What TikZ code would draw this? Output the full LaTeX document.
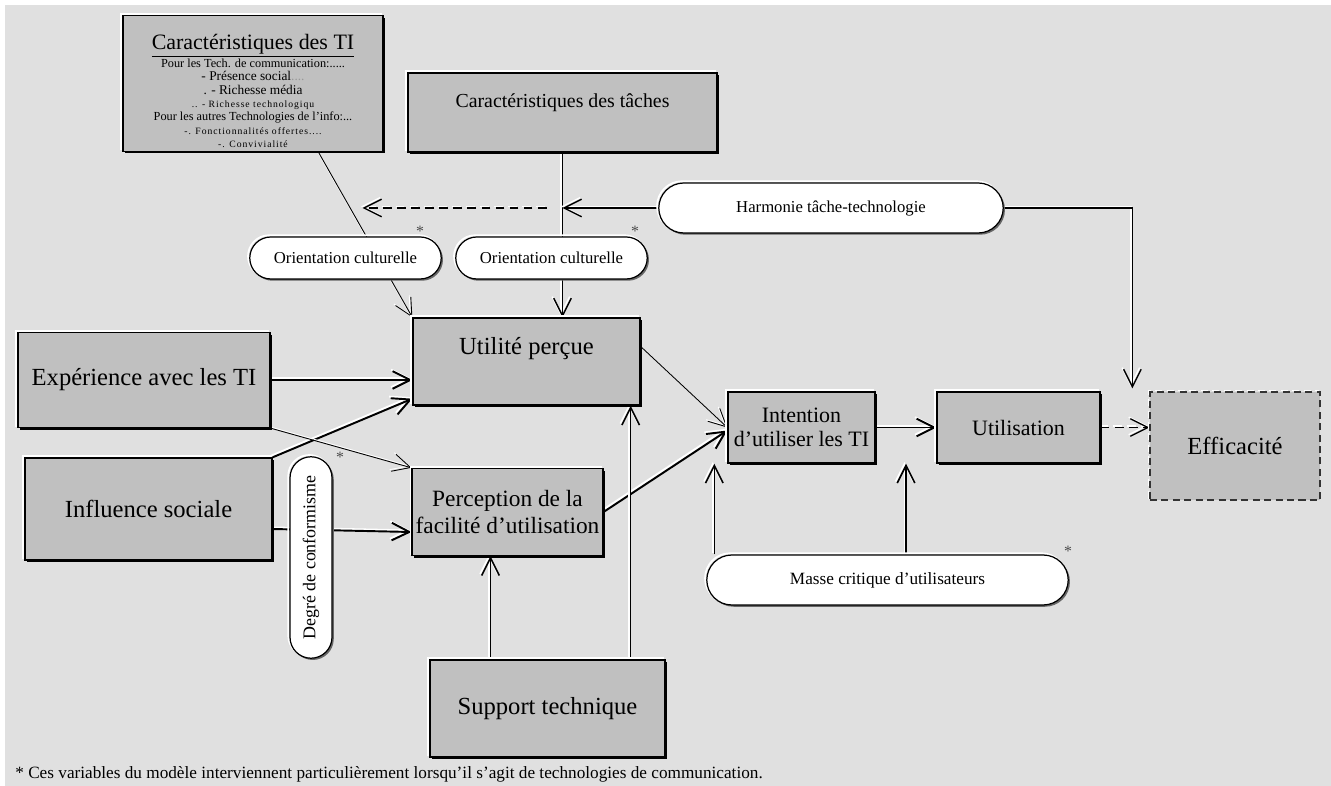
\documentclass[tikz,border=0pt]{standalone}
\usepackage{fontspec}
\setmainfont{Liberation Serif}
\usetikzlibrary{arrows.meta,positioning,calc,shapes.misc}
\definecolor{bggray}{RGB}{224,224,224}
\definecolor{boxgray}{RGB}{192,192,192}
\pgfdeclarelayer{back}
\pgfdeclarelayer{wires}
\pgfsetlayers{back,wires,main}

\begin{document}
\begin{tikzpicture}[
  x=0.02cm, y=-0.02cm,
  box/.style={draw=black, fill=boxgray, line width=0.8pt, align=center, inner sep=2pt,
    font=\fontsize{14}{15.5}\selectfont,
    preaction={fill=black, transform canvas={shift={(1.2pt,-1.2pt)}}},
    preaction={draw=white, line width=1pt, transform canvas={shift={(-1pt,1pt)}}}},
  effbox/.style={draw=black!80, fill=boxgray, line width=0.7pt, dash pattern=on 4pt off 2.5pt,
    align=center, font=\fontsize{14}{15.5}\selectfont,
    preaction={draw=white, line width=0.7pt, dash pattern=on 4pt off 2.5pt, transform canvas={shift={(-1pt,1pt)}}}},
  pill/.style={rounded rectangle, draw=black, fill=white, line width=0.7pt, inner sep=1pt,
    font=\fontsize{9.5}{10}\selectfont,
    preaction={fill=black!60, transform canvas={shift={(1pt,-1pt)}}},
    preaction={draw=white, line width=1pt, transform canvas={shift={(-1pt,1pt)}}}},
  ast/.style={font=\fontsize{9}{9}\selectfont, text=black!70, inner sep=0pt},
  barb/.style={-{Straight Barb[length=10pt,width=10pt]}},
  arr/.style={draw=black, line width=#1, barb,
    preaction={draw=white, line width=#1, barb, transform canvas={shift={(-0.9pt,0.9pt)}}}},
  arr/.default=1.1pt,
  dasharr/.style={draw=black, line width=0.8pt, barb, dash pattern=on 5pt off 3pt,
    preaction={draw=white, line width=0.8pt, barb, dash pattern=on 5pt off 3pt, transform canvas={shift={(-0.9pt,0.9pt)}}}}
]
\useasboundingbox (0,0) rectangle (1331,786);
\begin{pgfonlayer}{back}
\fill[bggray] (5,5) rectangle (1331,786);
\end{pgfonlayer}

\node[box, minimum width=52mm, minimum height=26.6mm, font=\fontsize{7}{7.6}\selectfont] (ti) at (253,83.5) {%
  {\fontsize{12.5}{13}\selectfont\rule{0pt}{17pt}\underline{Caractéristiques des TI}}\\
  Pour les Tech. de communication:.....\\
  {\fontsize{7.6}{8}\selectfont - Présence social{\color{black!40}....}}\\
  {\fontsize{7.6}{8}\selectfont . - Richesse média}\\
  {\fontsize{5.5}{7}\selectfont\addfontfeature{LetterSpace=10}.. - Richesse technologiqu}\\
  Pour les autres Technologies de l'info:...\\
  {\fontsize{5.5}{7}\selectfont\addfontfeature{LetterSpace=10}-. Fonctionnalités offertes....}\\
  {\fontsize{5.5}{7}\selectfont\addfontfeature{LetterSpace=10}-. Convivialité}};
\node[box, minimum width=61.8mm, minimum height=15.8mm, font=\fontsize{11.3}{12}\selectfont,
  text height=8pt, text depth=14pt] (taches) at (562.5,112.5) {Caractéristiques des tâches};
\node[pill, minimum width=69.6mm, minimum height=10mm] (harm) at (831,208) {Harmonie tâche-technologie};
\node[pill, minimum width=39mm, minimum height=8.4mm] (orA) at (345.5,258) {Orientation culturelle};
\node[pill, minimum width=39mm, minimum height=8.4mm] (orB) at (551.5,258) {Orientation culturelle};
\node[ast] (stA) at (420,231) {*};
\node[ast] (stB) at (635,231) {*};

\node[box, minimum width=45.4mm, minimum height=17.4mm, text height=10pt, text depth=18pt] (utile) at (526.5,361.5) {Utilité perçue};
\node[box, minimum width=50.4mm, minimum height=19mm] (exper) at (144,380) {Expérience avec les TI};
\node[box, minimum width=49.4mm, minimum height=20.4mm] (infl) at (148.5,509) {Influence sociale};
\node[pill, rotate=90, minimum width=41mm, minimum height=8.4mm, font=\fontsize{10.2}{11}\selectfont] (degre) at (311,557.5) {Degré de conformisme};
\node[ast] (stC) at (340,457) {*};
\node[box, minimum width=37.8mm, minimum height=17.4mm, font=\fontsize{13.3}{15}\selectfont] (percep) at (507.5,512) {Perception de la\\facilité d'utilisation};
\node[box, minimum width=47mm, minimum height=19.4mm] (support) at (547.5,708.5) {Support technique};

\node[box, minimum width=29.4mm, minimum height=14.2mm, font=\fontsize{12.5}{14}\selectfont] (intent) at (801.5,427.5) {Intention\\d'utiliser les TI};
\node[box, minimum width=32.6mm, minimum height=14.2mm, font=\fontsize{12.5}{14}\selectfont] (utilis) at (1018.5,427.5) {Utilisation};
\node[effbox, minimum width=34mm, minimum height=21.6mm] (effic) at (1235,446) {Efficacité};
\node[pill, minimum width=73mm, minimum height=10mm, font=\fontsize{9.8}{10}\selectfont] (masse) at (887.5,580) {Masse critique d'utilisateurs};
\node[ast] (stD) at (1068,551) {*};

\node[anchor=west, inner sep=0pt, font=\fontsize{9.8}{10}\selectfont] (note) at (15,774)
  {* Ces variables du modèle interviennent particulièrement lorsqu'il s'agit de technologies de communication.};

\coordinate (jn) at (taches.south |- harm.west);
\coordinate (hd) at ($(effic.north west)+(-17,-3)$);
\coordinate (sp1) at ($(percep.south)+(-17,0)$);
\coordinate (sp2) at ($(utile.south east)+(-10,0)$);
\coordinate (ms1) at ($(intent.south west)+(-13,0)$);
\coordinate (ms2) at ($(intent.south east)!0.5!(utilis.south west)$);

\begin{pgfonlayer}{wires}
\draw[arr=0.5pt] ($(ti.south west)!0.75!(ti.south east)$) -- (utile.north west);
\draw[arr=0.8pt] (taches.south) -- (taches.south |- utile.north);
\draw[arr=0.8pt] (harm.west) -- (jn);
\draw[dasharr] ($(jn)+(-16,0)$) -- ($(jn)+(-200,0)$);
\draw[arr=0.8pt] (harm.east) -| (hd);
\draw[arr] (exper) -- (exper -| utile.west);
\draw[arr] (infl.north east) -- ($(utile.south west)+(0,-7)$);
\draw[arr=0.5pt] (exper.south east) -- (percep.north west);
\draw[arr] ($(infl.east)+(0,20)$) -- ($(percep.west)+(0,20)$);
\draw[arr=0.5pt] ($(utile.east)+(0,-15)$) -- (intent.west);
\draw[arr] (percep.east) -- ($(intent.west)+(0,3)$);
\draw[arr=0.9pt] (sp1 |- support.north) -- (sp1);
\draw[arr=0.9pt] (sp2 |- support.north) -- (sp2);
\draw[arr=0.9pt] (ms1 |- masse.north) -- (ms1);
\draw[arr=0.9pt] (ms2 |- masse.north) -- (ms2);
\draw[arr] (intent.east) -- (utilis.west);
\draw[dasharr] (utilis.east) -- (utilis.east -| effic.west);
\end{pgfonlayer}
\end{tikzpicture}
\end{document}
